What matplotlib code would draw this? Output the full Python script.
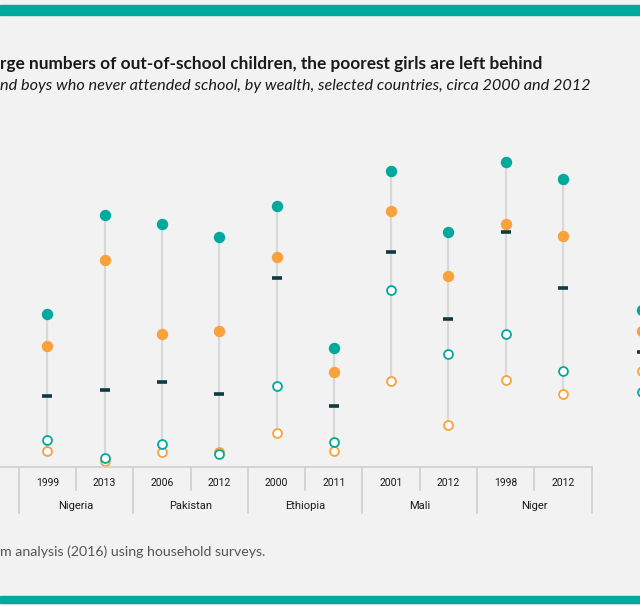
import matplotlib

matplotlib.use("Agg")
import matplotlib.font_manager as fm
import matplotlib.pyplot as plt
from matplotlib.lines import Line2D
from matplotlib.patches import Rectangle

W, H = 640, 606

# --- data (percent never attended school) ---
years = ["1999", "2013", "2006", "2012", "2000", "2011", "2001", "2012", "1998", "2012"]
countries = ["Nigeria", "Pakistan", "Ethiopia", "Mali", "Niger"]

# columns of the visible panel plus the first column of the next (cut-off) panel
poorest_girls = [49.1, 80.9, 78.1, 73.8, 84.0, 38.1, 95.3, 75.4, 98.1, 92.6, 50.2]
poorest_boys = [38.8, 66.4, 42.5, 43.5, 67.5, 30.2, 82.4, 61.2, 78.1, 74.2, 43.5]
average = [22.6, 24.5, 27.0, 23.3, 60.7, 19.5, 68.9, 47.3, 75.6, 57.5, 36.8]
richest_girls = [8.3, 2.5, 7.1, 3.9, 25.9, 7.8, 56.9, 36.1, 42.5, 30.6, 24.0]
richest_boys = [4.7, 1.5, 4.4, 4.5, 10.5, 4.7, 27.5, 13.3, 27.8, 23.1, 30.6]

TEAL = "#00a99d"
ORANGE = "#f9a13a"
DARK = "#0b3c42"
STEM = "#d9d9d9"
BG = "#f2f2f2"
GRID = "#cfcfcf"

PANEL_GAP = 0.37  # extra spacing before the next panel


def pick_font(names):
    available = {f.name for f in fm.fontManager.ttflist}
    for n in names:
        if n in available:
            return n
    return "DejaVu Sans"


def fx(px):
    return px / W


def fy(py):
    return 1 - py / H


head_font = pick_font(["Lato", "Open Sans", "DejaVu Sans"])
label_font = pick_font(["Liberation Sans Narrow", "Roboto", "Lato"])

fig = plt.figure(figsize=(W / 100, H / 100), dpi=100, facecolor=BG)

# teal bands top and bottom
fig.patches.append(Rectangle((0, fy(15)), 1, 10 / H, transform=fig.transFigure,
                             color=TEAL, zorder=0))
fig.patches.append(Rectangle((0, fy(603)), 1, 7 / H, transform=fig.transFigure,
                             color=TEAL, zorder=0))

# plot area: 0% at y=466 px, 100% at y=156 px; column i at 47.3 + 57.3*i px
x0_px, step_px = 47.3, 57.3
ax = fig.add_axes([0, fy(466), 1, 310 / H])
ax.set_facecolor("none")
ax.set_xlim((0 - x0_px) / step_px, (W - x0_px) / step_px)
ax.set_ylim(0, 100)
ax.axis("off")

n_main = len(years)
xs = list(range(n_main)) + [n_main + PANEL_GAP]

for i, x in enumerate(xs):
    vals = [poorest_girls[i], poorest_boys[i], average[i], richest_girls[i], richest_boys[i]]
    ax.plot([x, x], [min(vals), max(vals)], color=STEM, lw=1.6, zorder=1,
            solid_capstyle="butt", clip_on=False)

ax.plot(xs, poorest_girls, "o", ms=7.2, color=TEAL, mec=TEAL, zorder=3, clip_on=False)
ax.plot(xs, poorest_boys, "o", ms=7.2, color=ORANGE, mec=ORANGE, zorder=3, clip_on=False)
ax.plot(xs, average, "_", ms=7.5, mew=2.6, color=DARK, zorder=3, clip_on=False)
ax.plot(xs, richest_boys, "o", ms=6.4, mfc="white", mec=ORANGE, mew=1.3, zorder=3,
        clip_on=False)
ax.plot(xs, richest_girls, "o", ms=6.4, mfc="white", mec=TEAL, mew=1.3, zorder=4,
        clip_on=False)


# table below the chart
def col_px(i):
    return x0_px + step_px * i


base_y = 466.5
fig.add_artist(Line2D([0, fx(col_px(n_main - 0.5))], [fy(base_y)] * 2,
                      color=GRID, lw=1.2, transform=fig.transFigure))
for k in range(n_main + 1):
    xp = col_px(k - 0.5)
    bottom = 513 if k % 2 == 0 else 490
    fig.add_artist(Line2D([fx(xp)] * 2, [fy(base_y), fy(bottom)],
                          color=GRID, lw=1.2, transform=fig.transFigure))

for i, yr in enumerate(years):
    fig.text(fx(col_px(i)), fy(483), yr, ha="center", va="center", fontsize=7.5,
             family=label_font, color="#1a1a1a")
for j, c in enumerate(countries):
    fig.text(fx(col_px(2 * j + 0.5)), fy(506), c, ha="center", va="center",
             fontsize=8, family=label_font, color="#1a1a1a")

# titles and note (left part cut off in the source)
fig.text(0, fy(64), "rge numbers of out-of-school children, the poorest girls are left behind",
         ha="left", va="center", fontsize=12.4, fontweight="bold", family=head_font,
         color="#1a1a1a")
fig.text(0, fy(86), "nd boys who never attended school, by wealth, selected countries, circa 2000 and 2012",
         ha="left", va="center", fontsize=11.7, style="italic", family=head_font,
         color="#1a1a1a")
fig.text(0, fy(551.5), "m analysis (2016) using household surveys.", ha="left", va="center",
         fontsize=10.2, family=head_font, color="#555555")

fig.savefig("out.png", dpi=100, facecolor=BG)
